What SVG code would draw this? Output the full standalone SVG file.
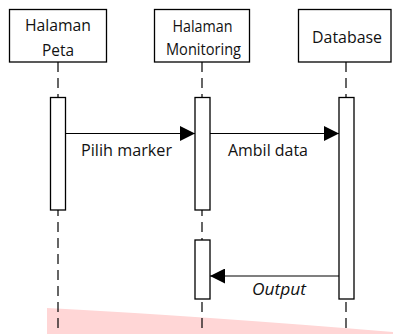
<svg xmlns="http://www.w3.org/2000/svg" width="393" height="334" viewBox="0 0 393 334">
<defs>
<style>
.box{fill:#fff;stroke:#000;stroke-width:1.3}
.life{stroke:#000;stroke-width:1.2;stroke-dasharray:10 6;fill:none}
.msg{stroke:#000;stroke-width:1.2;fill:none}
text{font-family:"Open Sans","Liberation Sans",Arial,sans-serif;font-size:15.5px;fill:#111;text-anchor:middle}
</style>
<marker id="ah" markerWidth="15" markerHeight="15" refX="15" refY="7.5" orient="auto" markerUnits="userSpaceOnUse">
<path d="M0,0 L15,7.5 L0,15 Z" fill="#000"/>
</marker>
</defs>
<rect width="393" height="334" fill="#fff"/>
<path d="M47,308 Q200,316 393,332 L393,334 L47,334 Z" fill="#ffd6d6"/>
<g id="lifelines">
<line class="life" x1="58" y1="62" x2="58" y2="334"/>
<line class="life" x1="202" y1="62" x2="202" y2="334"/>
<line class="life" x1="346" y1="62" x2="346" y2="334"/>
</g>
<g id="halaman-peta">
<rect class="box" x="9.5" y="9.5" width="97" height="52.5"/>
<text x="58" y="30.5" font-size="16" textLength="66" lengthAdjust="spacingAndGlyphs">Halaman</text>
<text x="58" y="55.5" font-size="16" textLength="32" lengthAdjust="spacingAndGlyphs">Peta</text>
<rect class="box" x="50.5" y="97.5" width="15" height="112.5"/>
</g>
<g id="halaman-monitoring">
<rect class="box" x="154.5" y="9.5" width="95" height="52.5"/>
<text x="202.5" y="32" font-size="14.5" textLength="60" lengthAdjust="spacingAndGlyphs">Halaman</text>
<text x="203.5" y="55" textLength="75" lengthAdjust="spacingAndGlyphs">Monitoring</text>
<rect class="box" x="195" y="97.5" width="15" height="112.5"/>
<rect class="box" x="195" y="240" width="15" height="59"/>
</g>
<g id="database">
<rect class="box" x="298.5" y="9.5" width="92.5" height="52.5"/>
<text x="347" y="43" textLength="70" lengthAdjust="spacingAndGlyphs">Database</text>
<rect class="box" x="339" y="97.5" width="15" height="201.5"/>
</g>
<g id="connectors">
<line class="msg" x1="65.5" y1="133.5" x2="195" y2="133.5" marker-end="url(#ah)"/>
<line class="msg" x1="210" y1="133.5" x2="339" y2="133.5" marker-end="url(#ah)"/>
<line class="msg" x1="339" y1="276" x2="210" y2="276" marker-end="url(#ah)"/>
<text x="126.5" y="155.5" textLength="91" lengthAdjust="spacingAndGlyphs">Pilih marker</text>
<text x="268" y="155.5" textLength="80" lengthAdjust="spacingAndGlyphs">Ambil data</text>
<text x="279" y="295" font-style="italic" textLength="54" lengthAdjust="spacingAndGlyphs">Output</text>
</g>
</svg>
